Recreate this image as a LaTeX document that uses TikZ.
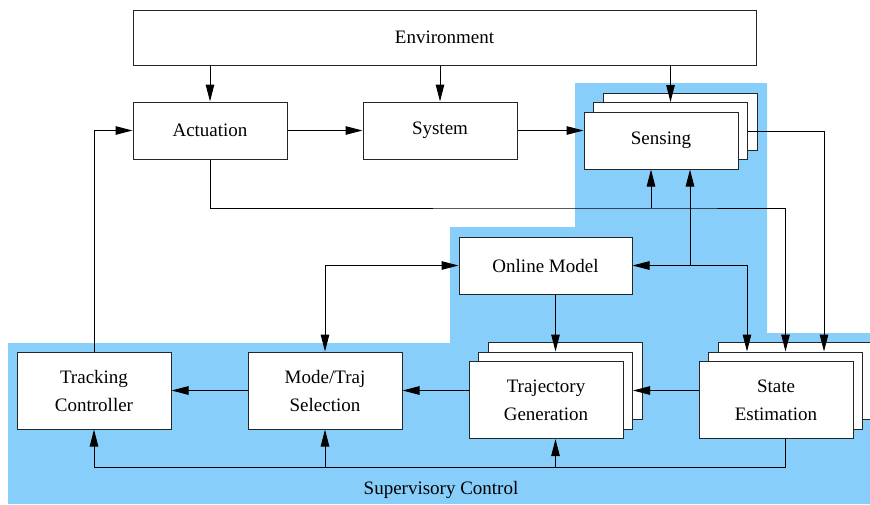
\documentclass[tikz,border=0pt]{standalone}
\usepackage{fontspec}
\setmainfont{Liberation Serif}
\usetikzlibrary{arrows.meta,positioning,calc}
\definecolor{supbg}{HTML}{87CEFA}
\tikzset{
  box/.style   = {draw=black!85, fill=white, line width=1pt, minimum width=154pt,
                  minimum height=57pt, inner sep=0pt, align=center,
                  font=\fontsize{19}{28}\selectfont},
  tallbox/.style = {box, minimum height=77pt},
  ar/.style    = {-{Triangle[length=17pt,width=8.5pt]}, line width=1pt},
  arr2/.style  = {{Triangle[length=17pt,width=8.5pt]}-{Triangle[length=17pt,width=8.5pt]}, line width=1pt},
  ln/.style    = {line width=1pt},
  lbl/.style   = {font=\fontsize{19}{23}\selectfont},
}

\begin{document}
\begin{tikzpicture}[x=1pt, y=-1pt]
  \useasboundingbox (0,0) rectangle (870,504);
  % supervisory control area
  \fill[supbg] (8,504) -- (8,343) -- (450,343) -- (450,227) -- (575,227) -- (575,83)
    -- (767,83) -- (767,333) -- (870,333) -- (870,504) -- cycle;

  \node[box, minimum width=623pt, minimum height=55pt] (env) at (444.5,37.5) {Environment};
  \node[box] (act) at (210,130.5) {Actuation};
  \node[box] (sys) at (440,130.5) {System};

  % stacked blocks
  \node[box] (sensC) at (680,121.5) {};
  \node[box] (sensB) at (670.5,131) {};
  \node[box] (sens) at (661,140.5) {Sensing};

  \node[box, minimum width=173pt] (online) at (545.5,265.5) {Online Model};

  \node[tallbox] (track) at (94,390.5) {Tracking\\ Controller};
  \node[tallbox] (mode) at (325,390.5) {Mode/Traj\\ Selection};

  \node[tallbox] (trajC) at (565,381) {};
  \node[tallbox] (trajB) at (555.5,390.5) {};
  \node[tallbox] (traj) at (546,400) {Trajectory\\ Generation};

  \node[tallbox] (stateC) at (795,381) {};
  \node[tallbox] (stateB) at (785.5,390.5) {};
  \node[tallbox] (state) at (776,400) {State\\ Estimation};

  \node[lbl] (supv) at (441,490) {Supervisory Control};

  \coordinate (j1) at (651,208);
  \coordinate (j2) at (690,265.5);
  \coordinate (b0) at (785.5,467);

  \draw[ar] (env.south -| act.north) -- (act.north);
  \draw[ar] (env.south -| sys.north) -- (sys.north);
  \draw[ar] (env.south -| sensB.north) -- (sensB.north);
  \draw[ar] (act.east) -- (sys.west);
  \draw[ar] (sys.east) -- (sys.east -| sens.west);
  \draw[ar] (sensB.east) -| ([xshift=38.5pt]stateB.north);
  \draw[ar] (act.south) |- (j1) -| (stateB.north);
  \draw[ar] (j1) -- (j1 |- sens.south);
  \draw[ar] (j2) -- (j2 |- sens.south);
  \draw[ar] (j2) -- (online.east);
  \draw[ar] (j2) -| ([xshift=-38.5pt]stateB.north);
  \draw[arr2] (online.west) -| (mode.north);
  \draw[ar] (trajB.north |- online.south) -- (trajB.north);
  \draw[ar] (trajB.east -| state.west) -- (trajB.east);
  \draw[ar] (mode.east -| traj.west) -- (mode.east);
  \draw[ar] (mode.west) -- (track.east);
  \draw[ar] (track.north) |- (act.west);
  \draw[ln] (state.south -| b0) -- (b0);
  \draw[ar] (b0) -| (track.south);
  \draw[ar] (mode.south |- b0) -- (mode.south);
  \draw[ar] (trajB.south |- b0) -- (trajB.south |- traj.south);
\end{tikzpicture}
\end{document}
